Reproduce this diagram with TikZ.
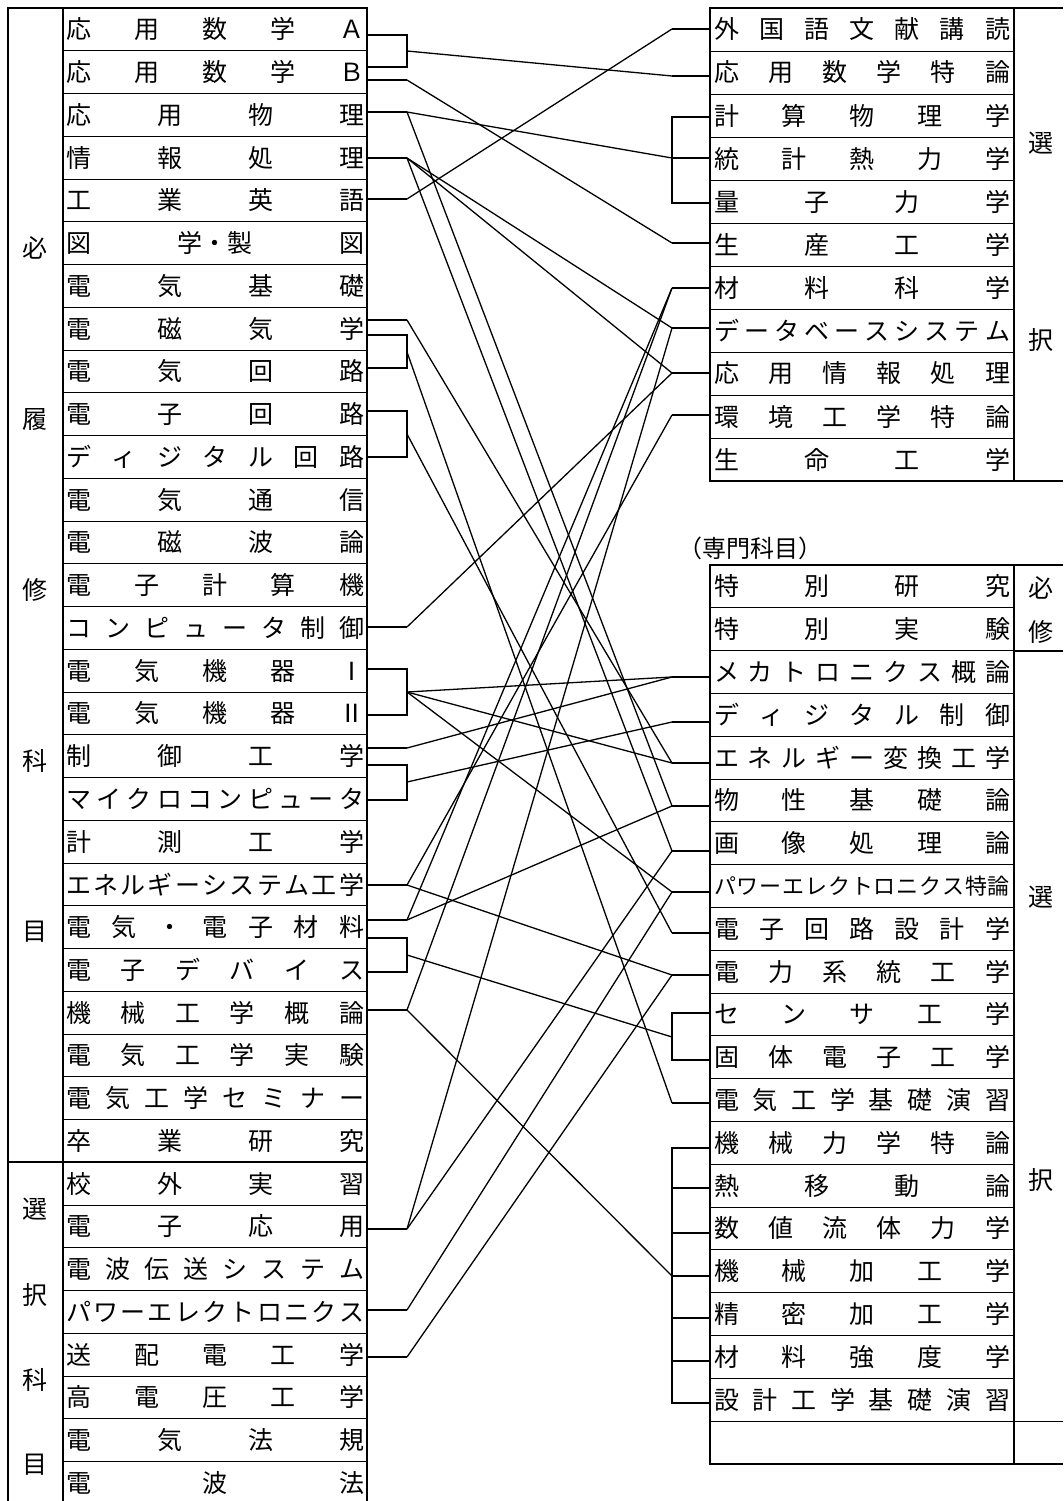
\documentclass[tikz,border=0pt]{standalone}
\usepackage{fontspec}
\newfontfamily\jpfont{Noto Sans CJK JP}
\usetikzlibrary{positioning}

% spread the characters of a subject name over the whole cell
\makeatletter
\def\spr#1{\spr@a#1\@nil}
\def\spr@a#1#2\@nil{#1\def\spr@rest{#2}%
  \ifx\spr@rest\@empty\else\hfill\expandafter\spr@a\spr@rest\@nil\fi}
\makeatother
\newcommand{\ltxt}[1]{\makebox[298pt]{\spr{#1}}}
\newcommand{\rtxt}[1]{\makebox[296pt]{\spr{#1}}}

\begin{document}
\begin{tikzpicture}[
        x=1pt, y=-1pt,
        lrow/.style={draw, line width=0.8pt, minimum width=304pt, minimum height=42.75pt,
                     inner sep=0pt, outer sep=0pt, font=\jpfont\fontsize{25}{25}\selectfont},
        urow/.style={lrow, minimum height=43pt},
        wrow/.style={lrow, minimum height=42.8pt},
        cat/.style={inner sep=0pt, font=\jpfont\fontsize{25}{25}\selectfont},
        frame/.style={line width=2pt},
        wire/.style={draw, line width=1.3pt}
    ]
    \path[use as bounding box, fill=white] (0,0) rectangle (1063,1501);

    % left table
    \node[lrow] (l1) at (215,29.375) {\ltxt{応用数学Ａ}};
    \node[lrow, below=0pt of l1]  (l2)  {\ltxt{応用数学Ｂ}};
    \node[lrow, below=0pt of l2]  (l3)  {\ltxt{応用物理}};
    \node[lrow, below=0pt of l3]  (l4)  {\ltxt{情報処理}};
    \node[lrow, below=0pt of l4]  (l5)  {\ltxt{工業英語}};
    \node[lrow, below=0pt of l5]  (l6)  {\ltxt{図{学・製}図}};
    \node[lrow, below=0pt of l6]  (l7)  {\ltxt{電気基礎}};
    \node[lrow, below=0pt of l7]  (l8)  {\ltxt{電磁気学}};
    \node[lrow, below=0pt of l8]  (l9)  {\ltxt{電気回路}};
    \node[lrow, below=0pt of l9]  (l10) {\ltxt{電子回路}};
    \node[lrow, below=0pt of l10] (l11) {\ltxt{ディジタル回路}};
    \node[lrow, below=0pt of l11] (l12) {\ltxt{電気通信}};
    \node[lrow, below=0pt of l12] (l13) {\ltxt{電磁波論}};
    \node[lrow, below=0pt of l13] (l14) {\ltxt{電子計算機}};
    \node[lrow, below=0pt of l14] (l15) {\ltxt{コンピュータ制御}};
    \node[lrow, below=0pt of l15] (l16) {\ltxt{電気機器Ⅰ}};
    \node[lrow, below=0pt of l16] (l17) {\ltxt{電気機器Ⅱ}};
    \node[lrow, below=0pt of l17] (l18) {\ltxt{制御工学}};
    \node[lrow, below=0pt of l18] (l19) {\ltxt{マイクロコンピュータ}};
    \node[lrow, below=0pt of l19] (l20) {\ltxt{計測工学}};
    \node[lrow, below=0pt of l20] (l21) {\ltxt{エネルギーシステム工学}};
    \node[lrow, below=0pt of l21] (l22) {\ltxt{電気・電子材料}};
    \node[lrow, below=0pt of l22] (l23) {\ltxt{電子デバイス}};
    \node[lrow, below=0pt of l23] (l24) {\ltxt{機械工学概論}};
    \node[lrow, below=0pt of l24] (l25) {\ltxt{電気工学実験}};
    \node[lrow, below=0pt of l25] (l26) {\ltxt{電気工学セミナー}};
    \node[lrow, below=0pt of l26] (l27) {\ltxt{卒業研究}};
    \node[lrow, below=0pt of l27] (l28) {\ltxt{校外実習}};
    \node[lrow, below=0pt of l28] (l29) {\ltxt{電子応用}};
    \node[lrow, below=0pt of l29] (l30) {\ltxt{電波伝送システム}};
    \node[lrow, below=0pt of l30] (l31) {\ltxt{パワーエレクトロニクス}};
    \node[lrow, below=0pt of l31] (l32) {\ltxt{送配電工学}};
    \node[lrow, below=0pt of l32] (l33) {\ltxt{高電圧工学}};
    \node[lrow, below=0pt of l33] (l34) {\ltxt{電気法規}};
    \node[lrow, below=0pt of l34] (l35) {\ltxt{電波法}};
    \draw[frame] (8,1510) -- (8,8) -- (367,8) -- (367,1510);
    \draw[frame] (63,8) -- (63,1510);
    \draw[frame] (8,1162) -- (367,1162);
    \node[cat] (req1) at (35,248)  {必};
    \node[cat] (req2) at (35,419)  {履};
    \node[cat] (req3) at (35,590)  {修};
    \node[cat] (req4) at (35,761)  {科};
    \node[cat] (req5) at (35,932)  {目};
    \node[cat] (opt1) at (35,1209) {選};
    \node[cat] (opt2) at (35,1295) {択};
    \node[cat] (opt3) at (35,1380) {科};
    \node[cat] (opt4) at (35,1465) {目};

    % upper right table
    \node[urow] (u1) at (862,29.5) {\rtxt{外国語文献講読}};
    \node[urow, below=0pt of u1]  (u2)  {\rtxt{応用数学特論}};
    \node[urow, below=0pt of u2]  (u3)  {\rtxt{計算物理学}};
    \node[urow, below=0pt of u3]  (u4)  {\rtxt{統計熱力学}};
    \node[urow, below=0pt of u4]  (u5)  {\rtxt{量子力学}};
    \node[urow, below=0pt of u5]  (u6)  {\rtxt{生産工学}};
    \node[urow, below=0pt of u6]  (u7)  {\rtxt{材料科学}};
    \node[urow, below=0pt of u7]  (u8)  {\rtxt{データベースシステム}};
    \node[urow, below=0pt of u8]  (u9)  {\rtxt{応用情報処理}};
    \node[urow, below=0pt of u9]  (u10) {\rtxt{環境工学特論}};
    \node[urow, below=0pt of u10] (u11) {\rtxt{生命工学}};
    \draw[frame] (1063,8) -- (710,8) -- (710,481) -- (1063,481);
    \draw[frame] (1014,8) -- (1014,481);
    \node[cat] (usel1) at (1041,143) {選};
    \node[cat] (usel2) at (1041,340) {択};

    % lower right table
    \node[anchor=west, inner sep=0pt, font=\jpfont\fontsize{24}{24}\selectfont] (senmon) at (678,548) {（専門科目）};
    \node[wrow] (w1) at (862,586.4) {\rtxt{特別研究}};
    \node[wrow, below=0pt of w1]  (w2)  {\rtxt{特別実験}};
    \node[wrow, below=0pt of w2]  (w3)  {\rtxt{メカトロニクス概論}};
    \node[wrow, below=0pt of w3]  (w4)  {\rtxt{ディジタル制御}};
    \node[wrow, below=0pt of w4]  (w5)  {\rtxt{エネルギー変換工学}};
    \node[wrow, below=0pt of w5]  (w6)  {\rtxt{物性基礎論}};
    \node[wrow, below=0pt of w6]  (w7)  {\rtxt{画像処理論}};
    \node[wrow, below=0pt of w7]  (w8)  {\fontsize{22}{22}\selectfont\rtxt{パワーエレクトロニクス特論}};
    \node[wrow, below=0pt of w8]  (w9)  {\rtxt{電子回路設計学}};
    \node[wrow, below=0pt of w9]  (w10) {\rtxt{電力系統工学}};
    \node[wrow, below=0pt of w10] (w11) {\rtxt{センサ工学}};
    \node[wrow, below=0pt of w11] (w12) {\rtxt{固体電子工学}};
    \node[wrow, below=0pt of w12] (w13) {\rtxt{電気工学基礎演習}};
    \node[wrow, below=0pt of w13] (w14) {\rtxt{機械力学特論}};
    \node[wrow, below=0pt of w14] (w15) {\rtxt{熱移動論}};
    \node[wrow, below=0pt of w15] (w16) {\rtxt{数値流体力学}};
    \node[wrow, below=0pt of w16] (w17) {\rtxt{機械加工学}};
    \node[wrow, below=0pt of w17] (w18) {\rtxt{精密加工学}};
    \node[wrow, below=0pt of w18] (w19) {\rtxt{材料強度学}};
    \node[wrow, below=0pt of w19] (w20) {\rtxt{設計工学基礎演習}};
    \node[wrow, below=0pt of w20] (w21) {};
    \draw[frame] (1063,565) -- (710,565) -- (710,1464) -- (1063,1464);
    \draw[frame] (1014,565) -- (1014,1464);
    \draw[frame] (1014,651) -- (1063,651);
    \draw[line width=0.8pt] (1014,1421) -- (1063,1421);
    \node[cat] (wreq1) at (1041,588)  {必};
    \node[cat] (wreq2) at (1041,632)  {修};
    \node[cat] (wsel1) at (1041,897)  {選};
    \node[cat] (wsel2) at (1041,1180) {択};

    % knots on the left side
    \coordinate (kMathA)     at (407,35);
    \coordinate (kMathB)     at (407,67);
    \coordinate (kMath)      at (407,51);
    \coordinate (kMathB2)    at (407,80);
    \coordinate (kPhys)      at (407,112);
    \coordinate (kInfo)      at (407,158);
    \coordinate (kEng)       at (407,199);
    \coordinate (kEM)        at (407,320);
    \coordinate (kEMb)       at (407,335);
    \coordinate (kCirc)      at (407,368);
    \coordinate (kEMCirc)    at (407,352);
    \coordinate (kElec)      at (407,411);
    \coordinate (kDig)       at (407,457);
    \coordinate (kElecDig)   at (407,434);
    \coordinate (kComp)      at (407,627);
    \coordinate (kMachI)     at (407,669);
    \coordinate (kMachII)    at (407,715);
    \coordinate (kMach)      at (407,692);
    \coordinate (kCtrl)      at (407,748);
    \coordinate (kCtrlb)     at (407,765);
    \coordinate (kMicro)     at (407,800);
    \coordinate (kCtrlMicro) at (407,782);
    \coordinate (kEnSys)     at (407,885);
    \coordinate (kMat)       at (407,920);
    \coordinate (kMatb)      at (407,938);
    \coordinate (kDev)       at (407,972);
    \coordinate (kMatDev)    at (407,955);
    \coordinate (kMechIntro) at (407,1010);
    \coordinate (kEApp)      at (407,1229);
    \coordinate (kPE)        at (407,1310);
    \coordinate (kTD)        at (407,1357);

    % knots on the right side
    \coordinate (rLit)       at (672,29);
    \coordinate (rMath)      at (672,76);
    \coordinate (rComp)      at (672,117);
    \coordinate (rStat)      at (672,158);
    \coordinate (rQuan)      at (672,203);
    \coordinate (rProd)      at (672,243);
    \coordinate (rMatSci)    at (672,288);
    \coordinate (rDB)        at (672,328);
    \coordinate (rInfo)      at (672,373);
    \coordinate (rEnv)       at (672,415);
    \coordinate (rMecha)     at (672,677);
    \coordinate (rDigCtrl)   at (672,722);
    \coordinate (rConv)      at (672,763);
    \coordinate (rSolid)     at (672,806);
    \coordinate (rImage)     at (672,851);
    \coordinate (rPEadv)     at (672,892);
    \coordinate (rCircDes)   at (672,933);
    \coordinate (rPower)     at (672,975);
    \coordinate (rSensor)    at (672,1013);
    \coordinate (rState)     at (672,1060);
    \coordinate (rSensState) at (672,1037);
    \coordinate (rBasic)     at (672,1103);
    \coordinate (rMechDyn)   at (672,1148);
    \coordinate (rHeat)      at (672,1188);
    \coordinate (rFluid)     at (672,1233);
    \coordinate (rMachining) at (672,1276);
    \coordinate (rPrecision) at (672,1318);
    \coordinate (rStrength)  at (672,1361);
    \coordinate (rDesign)    at (672,1403);

    % stubs and brackets, left
    \path[wire] (l1.east |- kMathA) -- (kMathA) -- (kMathB) -- (l2.east |- kMathB);
    \path[wire] (l2.east |- kMathB2) -- (kMathB2);
    \path[wire] (l3.east |- kPhys) -- (kPhys);
    \path[wire] (l4.east |- kInfo) -- (kInfo);
    \path[wire] (l5.east |- kEng) -- (kEng);
    \path[wire] (l8.east |- kEM) -- (kEM);
    \path[wire] (l8.east |- kEMb) -- (kEMb) -- (kCirc) -- (l9.east |- kCirc);
    \path[wire] (l10.east |- kElec) -- (kElec) -- (kDig) -- (l11.east |- kDig);
    \path[wire] (l15.east |- kComp) -- (kComp);
    \path[wire] (l16.east |- kMachI) -- (kMachI) -- (kMachII) -- (l17.east |- kMachII);
    \path[wire] (l18.east |- kCtrl) -- (kCtrl);
    \path[wire] (l18.east |- kCtrlb) -- (kCtrlb) -- (kMicro) -- (l19.east |- kMicro);
    \path[wire] (l21.east |- kEnSys) -- (kEnSys);
    \path[wire] (l22.east |- kMat) -- (kMat);
    \path[wire] (l22.east |- kMatb) -- (kMatb) -- (kDev) -- (l23.east |- kDev);
    \path[wire] (l24.east |- kMechIntro) -- (kMechIntro);
    \path[wire] (l29.east |- kEApp) -- (kEApp);
    \path[wire] (l31.east |- kPE) -- (kPE);
    \path[wire] (l32.east |- kTD) -- (kTD);

    % stubs and brackets, right
    \path[wire] (rLit) -- (u1.west |- rLit);
    \path[wire] (rMath) -- (u2.west |- rMath);
    \path[wire] (u3.west |- rComp) -- (rComp) -- (rQuan) -- (u5.west |- rQuan);
    \path[wire] (rStat) -- (u4.west |- rStat);
    \path[wire] (rProd) -- (u6.west |- rProd);
    \path[wire] (rMatSci) -- (u7.west |- rMatSci);
    \path[wire] (rDB) -- (u8.west |- rDB);
    \path[wire] (rInfo) -- (u9.west |- rInfo);
    \path[wire] (rEnv) -- (u10.west |- rEnv);
    \path[wire] (rMecha) -- (w3.west |- rMecha);
    \path[wire] (rDigCtrl) -- (w4.west |- rDigCtrl);
    \path[wire] (rConv) -- (w5.west |- rConv);
    \path[wire] (rSolid) -- (w6.west |- rSolid);
    \path[wire] (rImage) -- (w7.west |- rImage);
    \path[wire] (rPEadv) -- (w8.west |- rPEadv);
    \path[wire] (rCircDes) -- (w9.west |- rCircDes);
    \path[wire] (rPower) -- (w10.west |- rPower);
    \path[wire] (w11.west |- rSensor) -- (rSensor) -- (rState) -- (w12.west |- rState);
    \path[wire] (rBasic) -- (w13.west |- rBasic);
    \path[wire] (w14.west |- rMechDyn) -- (rMechDyn) -- (rDesign) -- (w20.west |- rDesign);
    \path[wire] (rHeat) -- (w15.west |- rHeat);
    \path[wire] (rFluid) -- (w16.west |- rFluid);
    \path[wire] (rMachining) -- (w17.west |- rMachining);
    \path[wire] (rPrecision) -- (w18.west |- rPrecision);
    \path[wire] (rStrength) -- (w19.west |- rStrength);

    % connections
    \path[wire] (kMath)      -- (rMath);
    \path[wire] (kMathB2)    -- (rProd);
    \path[wire] (kPhys)      -- (rStat);
    \path[wire] (kPhys)      -- (rSolid);
    \path[wire] (kInfo)      -- (rDB);
    \path[wire] (kInfo)      -- (rInfo);
    \path[wire] (kInfo)      -- (rImage);
    \path[wire] (kEng)       -- (rLit);
    \path[wire] (kEM)        -- (rConv);
    \path[wire] (kEMCirc)    -- (rBasic);
    \path[wire] (kElecDig)   -- (rCircDes);
    \path[wire] (kComp)      -- (rInfo);
    \path[wire] (kMach)      -- (rMecha);
    \path[wire] (kMach)      -- (rConv);
    \path[wire] (kMach)      -- (rPEadv);
    \path[wire] (kCtrl)      -- (rMecha);
    \path[wire] (kCtrlMicro) -- (rDigCtrl);
    \path[wire] (kEnSys)     -- (rEnv);
    \path[wire] (kEnSys)     -- (rPower);
    \path[wire] (kMat)       -- (rMatSci);
    \path[wire] (kMat)       -- (rSolid);
    \path[wire] (kMatDev)    -- (rSensState);
    \path[wire] (kMechIntro) -- (rMatSci);
    \path[wire] (kMechIntro) -- (rMachining);
    \path[wire] (kEApp)      -- (rDB);
    \path[wire] (kEApp)      -- (rImage);
    \path[wire] (kPE)        -- (rPEadv);
    \path[wire] (kTD)        -- (rPower);
\end{tikzpicture}
\end{document}
